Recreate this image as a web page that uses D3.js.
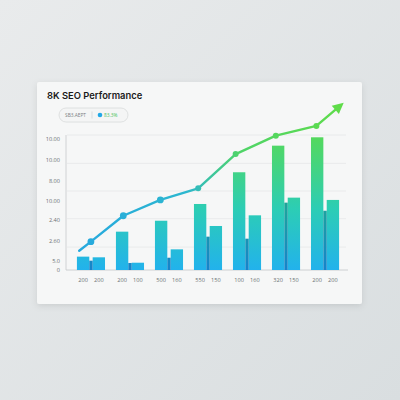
<!DOCTYPE html>
<html><head><meta charset="utf-8">
<script src="https://cdn.jsdelivr.net/npm/d3@7"></script>
<style>html,body{margin:0;padding:0;background:#dfe3e5;}svg{display:block;}</style>
</head><body>
<svg id="chart" width="400" height="400"></svg>
<script>
// ---- data ----
const categories = ["G1","G2","G3","G4","G5","G6","G7"];
const seriesA = [9.9, 28.4, 36.5, 48.9, 72.4, 92.1, 98.3];
const seriesB = [9.4, 5.4, 15.3, 32.6, 40.5, 53.6, 51.9];
const seriesOverlap = [6.9, 5.2, 9.1, 24.7, 23.2, 49.9, 43.9];
const xTickLabels = ["200","200","200","100","500","160","550","150","100","160","320","150","200","200"];
const yTickValues = [0, 6.7, 21.5, 37, 51, 66, 81.5, 97];
const yTickLabels = ["0","5.0","2.60","2.40","10.00","8.00","10.00","10.00"];
const gridValues = [17, 38, 58.5, 79, 100];
const trendPos = [-0.1, 0.2, 1.03, 1.98, 2.95, 3.91, 4.94, 5.98, 6.68];
const trendValues = [14.3, 21, 40.2, 51.9, 60.5, 85.9, 99.5, 106.7, 123.9];
const title = "8K SEO Performance";
const legendLeft = "SB3.AEPT";
const legendRight = "83.3%";

const svg = d3.select("#chart");
const defs = svg.append("defs");

// background
const bg = defs.append("linearGradient").attr("id","bg").attr("x1",0).attr("y1",0).attr("x2",1).attr("y2",1);
bg.append("stop").attr("offset",0).attr("stop-color","#e9ebec");
bg.append("stop").attr("offset",1).attr("stop-color","#d9dee0");
svg.append("rect").attr("width",400).attr("height",400).attr("fill","url(#bg)");

const sh = defs.append("filter").attr("id","sh").attr("x",-0.1).attr("y",-0.1).attr("width",1.2).attr("height",1.3);
sh.append("feDropShadow").attr("dx",0).attr("dy",2).attr("stdDeviation",3).attr("flood-color","#000").attr("flood-opacity",0.1);

svg.append("rect").attr("x",37).attr("y",82).attr("width",325).attr("height",222).attr("rx",2)
  .attr("fill","#f6f7f7").attr("filter","url(#sh)");

// scales
const y = d3.scaleLinear().domain([0,100]).range([270,135]);
const x = d3.scaleBand().domain(categories).range([66,350]).paddingInner(0.28).paddingOuter(0.28);
const bw = x.bandwidth();
const inner = d3.scaleLinear().domain([0,1]).range([0,bw]);
const posX = d3.scaleLinear().domain([0,1]).range([x(categories[0]) + inner(0.22), x(categories[1]) + inner(0.22)]);

// gradients
const gBar = defs.append("linearGradient").attr("id","gBar").attr("gradientUnits","userSpaceOnUse")
  .attr("x1",0).attr("y1",y(0)).attr("x2",0).attr("y2",y(100));
gBar.append("stop").attr("offset",0).attr("stop-color","#22b2ec");
gBar.append("stop").attr("offset",0.45).attr("stop-color","#2ccdb5");
gBar.append("stop").attr("offset",1).attr("stop-color","#55d95a");
const gDark = defs.append("linearGradient").attr("id","gDark").attr("gradientUnits","userSpaceOnUse")
  .attr("x1",0).attr("y1",y(0)).attr("x2",0).attr("y2",y(100));
gDark.append("stop").attr("offset",0).attr("stop-color","#1583cc");
gDark.append("stop").attr("offset",0.45).attr("stop-color","#1ca39f");
gDark.append("stop").attr("offset",1).attr("stop-color","#2fb050");
const gLine = defs.append("linearGradient").attr("id","gLine").attr("gradientUnits","userSpaceOnUse")
  .attr("x1",80).attr("y1",0).attr("x2",345).attr("y2",0);
gLine.append("stop").attr("offset",0).attr("stop-color","#27a9de");
gLine.append("stop").attr("offset",0.4).attr("stop-color","#2cb7cf");
gLine.append("stop").attr("offset",0.6).attr("stop-color","#4fd468");
gLine.append("stop").attr("offset",1).attr("stop-color","#5fdc4a");

// title
svg.append("text").attr("x",47).attr("y",99).text(title)
  .attr("font-family","Inter, 'Open Sans', sans-serif").attr("font-weight",600).attr("font-size",9.4).attr("fill","#1a1a1a");

// legend pill
const lg = svg.append("g");
lg.append("rect").attr("x",59).attr("y",108).attr("width",69).attr("height",14).attr("rx",7)
  .attr("fill","#f4f5f5").attr("stroke","#d8dadb").attr("stroke-width",0.8);
lg.append("text").attr("x",65).attr("y",117).text(legendLeft).attr("font-family","'Open Sans', sans-serif")
  .attr("font-size",4.8).attr("fill","#7a7f82");
lg.append("line").attr("x1",92).attr("x2",92).attr("y1",111.5).attr("y2",118.5).attr("stroke","#c8cbcd").attr("stroke-width",0.6);
lg.append("circle").attr("cx",100).attr("cy",115).attr("r",2.3).attr("fill","#22a8e6");
lg.append("text").attr("x",104).attr("y",117).text(legendRight).attr("font-family","'Open Sans', sans-serif")
  .attr("font-size",4.8).attr("fill","#48c25a");

// grid
svg.append("g").selectAll("line").data(gridValues).join("line")
  .attr("x1",67).attr("x2",346).attr("y1",d=>y(d)).attr("y2",d=>y(d))
  .attr("stroke","#e6e7e8").attr("stroke-width",0.8);

// y axis
const yAxis = d3.axisLeft(y).tickValues(yTickValues).tickFormat((d,i)=>yTickLabels[i]).tickSize(0).tickPadding(6);
const ya = svg.append("g").attr("transform","translate(66,0)").call(yAxis);
ya.select(".domain").attr("stroke","#d0d2d4").attr("d","M0,135V270");
ya.selectAll("text").attr("font-family","'Open Sans', sans-serif").attr("font-size",5.6).attr("fill","#6d7275");

// baseline
svg.append("line").attr("x1",66).attr("x2",348).attr("y1",y(0)).attr("y2",y(0)).attr("stroke","#c4c7c9").attr("stroke-width",0.8);

// bars
const bars = svg.append("g");
bars.selectAll(".a").data(seriesA).join("rect")
  .attr("x",(d,i)=>x(categories[i])).attr("width",inner(0.44))
  .attr("y",d=>y(d)).attr("height",d=>y(0)-y(d)).attr("fill","url(#gBar)");
bars.selectAll(".b").data(seriesB).join("rect")
  .attr("x",(d,i)=>x(categories[i])+inner(0.56)).attr("width",inner(0.44))
  .attr("y",d=>y(d)).attr("height",d=>y(0)-y(d)).attr("fill","url(#gBar)");
bars.selectAll(".c").data(seriesOverlap).join("rect")
  .attr("x",(d,i)=>x(categories[i])+inner(0.44)).attr("width",inner(0.12))
  .attr("y",d=>y(d)).attr("height",d=>y(0)-y(d)).attr("fill","url(#gDark)");

// x labels
const labelPos = [];
categories.forEach(c=>{ labelPos.push(x(c)+inner(0.22)); labelPos.push(x(c)+inner(0.78)); });
svg.append("g").selectAll("text").data(xTickLabels).join("text")
  .attr("x",(d,i)=>labelPos[i]).attr("y",281.5).attr("text-anchor","middle").text(d=>d)
  .attr("font-family","'Open Sans', sans-serif").attr("font-size",5.6).attr("fill","#6d7275");

// trend line
const pts = trendPos.map((p,i)=>[posX(p), y(trendValues[i])]);
const n = pts.length;
const tip = pts[n-1], prev = pts[n-2];
const ang = Math.atan2(tip[1]-prev[1], tip[0]-prev[0]);
const headLen = 11;
const lineEnd = [tip[0]-Math.cos(ang)*headLen*0.8, tip[1]-Math.sin(ang)*headLen*0.8];
const linePts = pts.slice(0,n-1).concat([lineEnd]);
svg.append("path").attr("d", d3.line()(linePts)).attr("fill","none")
  .attr("stroke","url(#gLine)").attr("stroke-width",2.4).attr("stroke-linejoin","round").attr("stroke-linecap","round");
svg.append("g").selectAll("circle").data(pts.slice(1,n-1)).join("circle")
  .attr("cx",d=>d[0]).attr("cy",d=>d[1]).attr("r",(d,i)=>i<3?3.4:3.0).attr("fill","url(#gLine)");
// arrow head
const hw = 5.5;
const base = [tip[0]-Math.cos(ang)*headLen, tip[1]-Math.sin(ang)*headLen];
const px = -Math.sin(ang), py = Math.cos(ang);
svg.append("path").attr("d", d3.line()([tip,[base[0]+px*hw, base[1]+py*hw],[base[0]-px*hw, base[1]-py*hw]]) + "Z")
  .attr("fill","#5fdc4a");
</script>
</body></html>
